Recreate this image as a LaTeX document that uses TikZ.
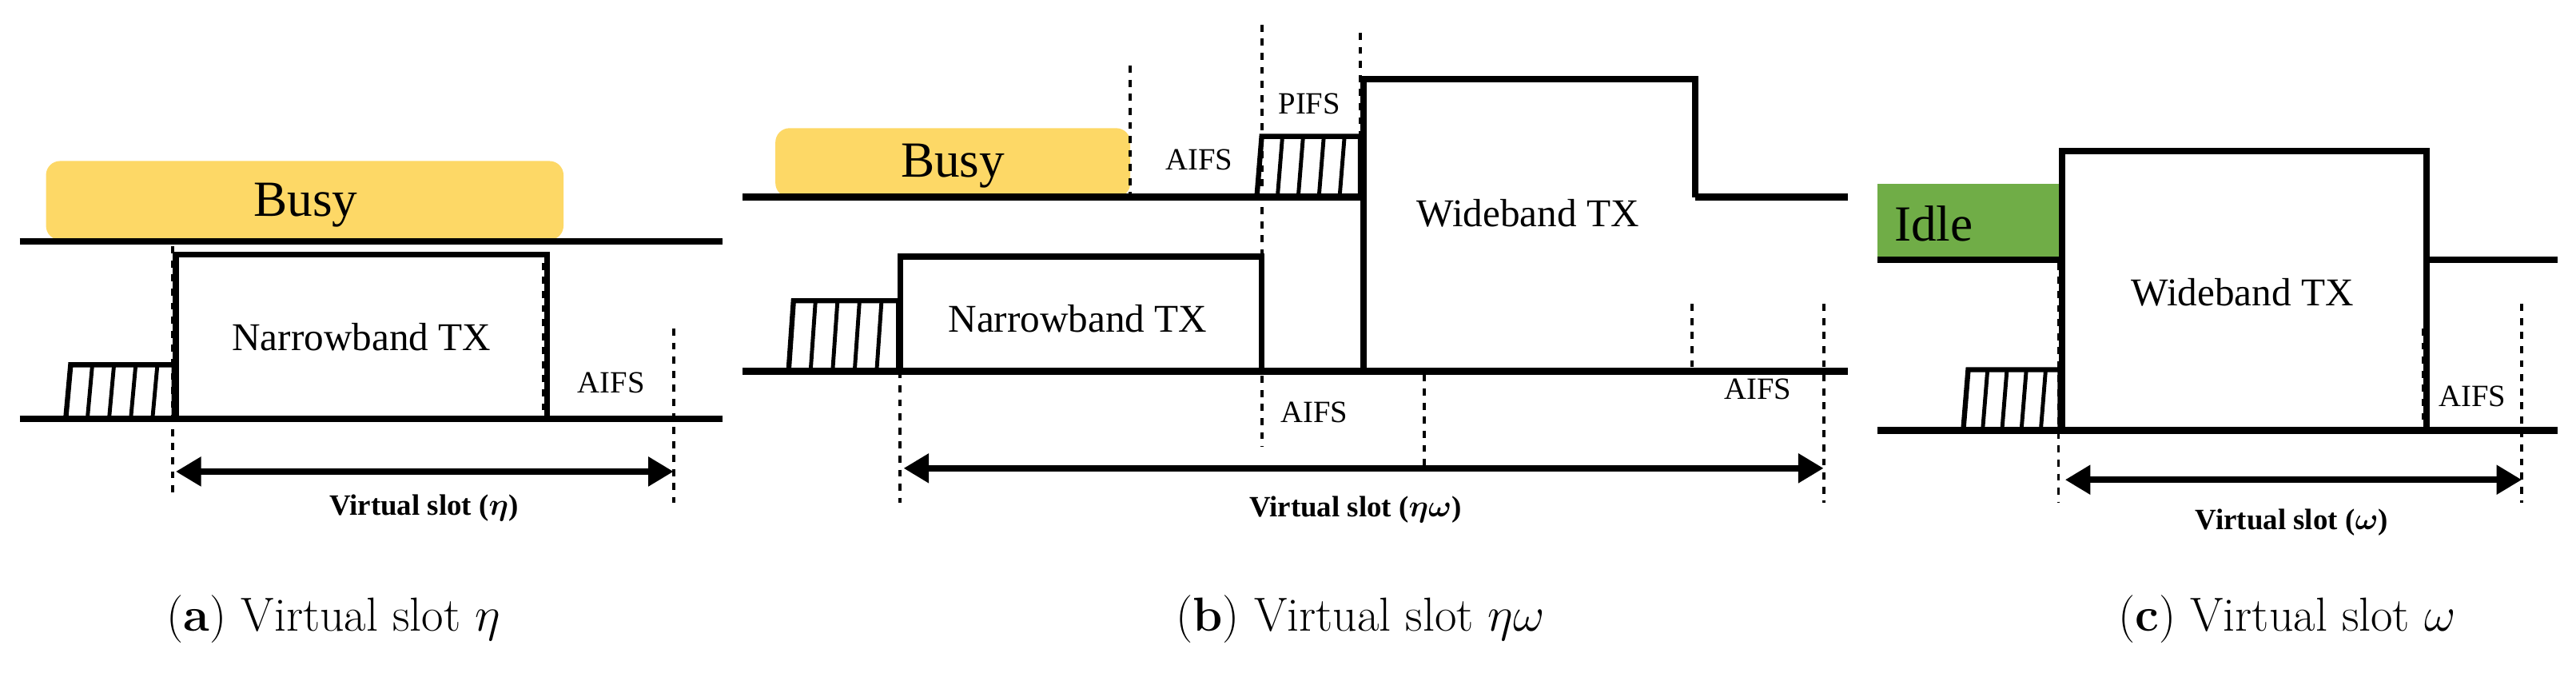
\documentclass[tikz,border=0pt]{standalone}
\usepackage{amsmath}
\usepackage{fontspec}
\newfontfamily\tnr{Liberation Serif}
\usetikzlibrary{arrows.meta,positioning}
\definecolor{busyyellow}{HTML}{FDD866}
\definecolor{idlegreen}{HTML}{70AD47}
\tikzset{
  chan/.style={line width=2.4pt},
  txbox/.style={line width=2.2pt},
  slot/.style={dash pattern=on 2.5pt off 2.5pt, line width=1.1pt},
  span/.style={line width=2.4pt, {Triangle[length=9pt,width=10pt]}-{Triangle[length=9pt,width=10pt]}},
  lbl/.style={font=\tnr\fontsize{11}{11}\selectfont, inner sep=0pt},
  big/.style={font=\tnr\fontsize{14}{14}\selectfont, inner sep=0pt},
  huge/.style={font=\tnr\fontsize{18}{18}\selectfont, inner sep=0pt},
  vs/.style={font=\tnr\bfseries\fontsize{10.5}{10.5}\selectfont, inner sep=0pt},
  subcap/.style={font=\fontsize{17}{17}\selectfont, inner sep=0pt}
}
% backoff block: left x, right x, top y, bottom y
\newcommand{\backoff}[4]{%
  \draw[line width=1.8pt] (#1,#4) -- (#1+3,#3) -- (#2,#3) -- (#2,#4);
  \foreach \k in {1,2,3,4}
    \draw[line width=1.4pt] ({#1+\k*(#2-#1)/5},#4) -- ({#1+3+\k*(#2-#1)/5},#3);
}
\begin{document}
\begin{tikzpicture}[x=0.02055cm,y=-0.02055cm]
\useasboundingbox (0,0) rectangle (1568,424);

% (a)
\fill[busyyellow,rounded corners=5pt] (28,98) rectangle (343,146);
\node[huge] (busyA) at (186,125) {Busy};
\coordinate (a1) at (12,147); \coordinate (a2) at (440,147);
\draw[chan] (a1) -- (a2);
\backoff{40}{106}{222}{255}
\draw[txbox] (107,255) |- (333,155) -- (333,255);
\draw[chan] (12,255) -- (440,255);
\node[big] (nbA) at (220,205) {Narrowband TX};
\node[lbl] (aifsA) at (372,233) {AIFS};
\draw[slot] (105,150) -- (105,300);
\draw[slot] (410,200) -- (410,306);
\draw[slot] (331,160) -- (331,255);
\coordinate (sa) at (107,287); \coordinate (ea) at (410,287);
\draw[span] (sa) -- (ea);
\node[vs] (vsA) at (258,309) {Virtual slot (\(\boldsymbol\eta\))};
\node[subcap] (capA) at (203,377) {(\textbf{a}) Virtual slot \(\eta\)};

% (b)
\fill[busyyellow,rounded corners=5pt] (472,78) rectangle (688,120);
\node[huge] (busyB) at (580,101) {Busy};
\backoff{765}{828}{83}{120}
\draw[chan] (452,120) -- (828,120);
\draw[txbox] (830,120) |- (1032,48) -- (1032,120);
\draw[chan] (1032,120) -- (1125,120);
\backoff{480}{547}{183}{226}
\draw[txbox] (548,226) |- (768,156) -- (768,226);
\draw[txbox] (830,120) -- (830,226);
\draw[chan] (452,226) -- (1125,226);
\node[big] (nbB) at (656,194) {Narrowband TX};
\node[big] (wbB) at (930,130) {Wideband TX};
\node[lbl] (pifs) at (797,63) {PIFS};
\node[lbl] (aifsB1) at (730,97) {AIFS};
\node[lbl] (aifsB2) at (800,251) {AIFS};
\node[lbl] (aifsB3) at (1070,237) {AIFS};
\draw[slot] (688,40) -- (688,120);
\draw[slot] (768,15) -- (768,272);
\draw[slot] (828,20) -- (828,120);
\draw[slot] (867,228) -- (867,287);
\draw[slot] (1030,185) -- (1030,226);
\draw[slot] (1110,185) -- (1110,306);
\draw[slot] (548,226) -- (548,306);
\coordinate (sb) at (550,285); \coordinate (eb) at (1110,285);
\draw[span] (sb) -- (eb);
\node[vs] (vsB) at (825,310) {Virtual slot (\(\boldsymbol{\eta\omega}\))};
\node[subcap] (capB) at (828,377) {(\textbf{b}) Virtual slot \(\eta\omega\)};

% (c)
\fill[idlegreen] (1143,112) rectangle (1253,158);
\node[huge] (idle) at (1177,136) {Idle};
\draw[chan] (1143,158) -- (1255,158);
\draw[txbox] (1255,262) |- (1477,92) -- (1477,262);
\draw[chan] (1477,158) -- (1557,158);
\backoff{1195}{1254}{225}{262}
\draw[chan] (1143,262) -- (1557,262);
\node[big] (wbC) at (1365,178) {Wideband TX};
\node[lbl] (aifsC) at (1505,241) {AIFS};
\draw[slot] (1253,160) -- (1253,306);
\draw[slot] (1535,185) -- (1535,306);
\draw[slot] (1475,200) -- (1475,262);
\coordinate (sc) at (1257,292); \coordinate (ec) at (1535,292);
\draw[span] (sc) -- (ec);
\node[vs] (vsC) at (1395,318) {Virtual slot (\(\boldsymbol\omega\))};
\node[subcap] (capC) at (1392,377) {(\textbf{c}) Virtual slot \(\omega\)};
\end{tikzpicture}
\end{document}
